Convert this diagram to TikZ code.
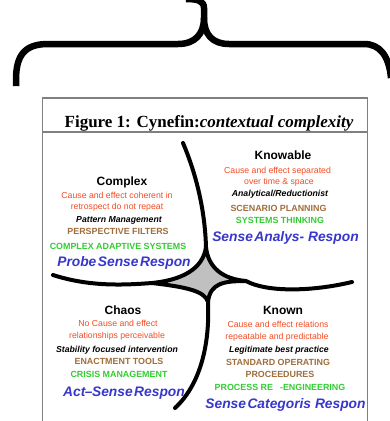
\documentclass[tikz,border=0pt]{standalone}
\usepackage{fontspec}
\setmainfont{Liberation Sans}
\newfontfamily\titlefont{Liberation Serif}
\definecolor{cred}{RGB}{245,75,35}
\definecolor{cbrown}{RGB}{160,110,60}
\definecolor{cgreen}{RGB}{50,205,50}
\definecolor{cblue}{RGB}{55,55,205}
\definecolor{cfill}{RGB}{192,192,192}
\definecolor{cframe}{RGB}{128,128,128}
\tikzset{
  every node/.style={inner sep=0pt, anchor=base},
  head/.style={font=\bfseries\fontsize{12}{14}\selectfont},
  rtxt/.style={text=cred, font=\fontsize{8.7}{10}\selectfont},
  itx/.style={font=\bfseries\itshape\fontsize{8.7}{10}\selectfont},
  brn/.style={text=cbrown, font=\bfseries\fontsize{8.9}{10}\selectfont},
  grn/.style={text=cgreen, font=\bfseries\fontsize{8.9}{10}\selectfont},
  blu/.style={text=cblue, font=\bfseries\itshape\fontsize{13.8}{15}\selectfont},
  cyn/.style={line width=4pt, line cap=round, line join=round},
  bracestyle/.style={line width=6.5pt, line cap=butt, line join=round},
  frame/.style={draw=cframe, line width=1.5pt}
}
\begin{document}
\begin{tikzpicture}[x=1pt,y=-1pt]
\useasboundingbox (0,0) rectangle (390,421);
\clip (0,0) rectangle (390,421);
\fill[white] (0,0) rectangle (390,421);
% brace
\draw[bracestyle] (16,86) -- (16,80) .. controls (16,56) and (24,44) .. (48,44) -- (178,44)
  .. controls (195,44) and (204,34) .. (204,18) -- (204,8) .. controls (204,1) and (198,-1) .. (186,-1);
\draw[bracestyle] (204,18) .. controls (204,34) and (212,44) .. (229,44) -- (364,44)
  .. controls (380,44) and (389,56) .. (391,78);
% frame
\coordinate (fTL) at (42.5,98);
\coordinate (fTR) at (367.5,98);
\coordinate (fBL) at (42.5,440);
\coordinate (fBR) at (367.5,440);
\coordinate (sL) at (42.5,132);
\coordinate (sR) at (367.5,132);
\draw[frame] (fBL) -- (fTL) -- (fTR) -- (fBR);
\draw[frame] (sL) -- (sR);
\node[font=\titlefont\bfseries\fontsize{17}{19}\selectfont] (title) at (209,127)
  {Figure 1: Cynefin:\textit{contextual complexity}};
% central shape
\coordinate (T) at (206,247);
\coordinate (R) at (246,281);
\coordinate (B) at (208,302);
\coordinate (L) at (152,283);
\coordinate (topEnd) at (183,143);
\coordinate (leftEnd) at (53,275);
\coordinate (rightEnd) at (352,282);
\coordinate (botEnd) at (175,408);
\draw[cyn, fill=cfill] (T) .. controls (208,267) and (222,279) .. (R)
  .. controls (224,281) and (210,283) .. (B)
  .. controls (205,291) and (186,287) .. (L)
  .. controls (182,280) and (203,269) .. (T) -- cycle;
\draw[cyn] (topEnd) .. controls (197,176) and (205,212) .. (T);
\draw[cyn] (leftEnd) .. controls (90,287) and (125,285) .. (L);
\draw[cyn] (R) .. controls (266,292) and (310,292) .. (rightEnd);
\draw[cyn] (B) .. controls (210,345) and (200,385) .. (botEnd);
% Complex
\node[head] (cxh) at (122,185) {Complex};
\node[rtxt] (cx1) at (117,198.7) {Cause and effect coherent in};
\node[rtxt] (cx2) at (117,209.3) {retrospect do not repeat};
\node[itx] (cx3) at (119,222.3) {Pattern Management};
\node[brn] (cx4) at (118,234.7) {PERSPECTIVE FILTERS};
\node[grn] (cx5) at (118,249.7) {COMPLEX ADAPTIVE SYSTEMS};
\node[blu] (cx6) at (124,266.7) {Probe\kern1.5pt Sense\kern1.5pt Respon};
% Knowable
\node[head] (kbh) at (283,159) {Knowable};
\node[rtxt] (kb1) at (277.5,173.3) {Cause and effect separated};
\node[rtxt] (kb2) at (279,184.3) {over time \& space};
\node[itx] (kb3) at (280,196.7) {Analytical/Reductionist};
\node[brn] (kb4) at (278.5,211) {SCENARIO PLANNING};
\node[grn] (kb5) at (280,223.3) {SYSTEMS THINKING};
\node[blu] (kb6) at (285.5,241.7) {Sense\kern1.5pt Analys- Respon};
% Chaos
\node[head] (chh) at (123,314) {Chaos};
\node[rtxt] (ch1) at (118,326.7) {No Cause and effect};
\node[rtxt] (ch2) at (117,338.3) {relationships perceivable};
\node[itx] (ch3) at (117,352) {Stability focused intervention};
\node[brn] (ch4) at (119,364.3) {ENACTMENT TOOLS};
\node[grn] (ch5) at (119,377.7) {CRISIS MANAGEMENT};
\node[blu] (ch6) at (124,396) {Act\kern-0.5pt--\kern-0.5pt Sense\kern1.5pt Respon};
% Known
\node[head] (knh) at (283,314.7) {Known};
\node[rtxt] (kn1) at (278,327.7) {Cause and effect relations};
\node[rtxt] (kn2) at (277,339) {repeatable and predictable};
\node[itx] (kn3) at (279,352.3) {Legitimate best practice};
\node[brn] (kn4) at (278,365.7) {STANDARD OPERATING};
\node[brn] (kn5) at (280,377.7) {PROCEEDURES};
\node[grn] (kn6) at (280,390) {PROCESS RE\hspace{7pt}-ENGINEERING};
\node[blu] (kn7) at (285.5,408.3) {Sense\kern1.5pt Categoris Respon};
\end{tikzpicture}
\end{document}
